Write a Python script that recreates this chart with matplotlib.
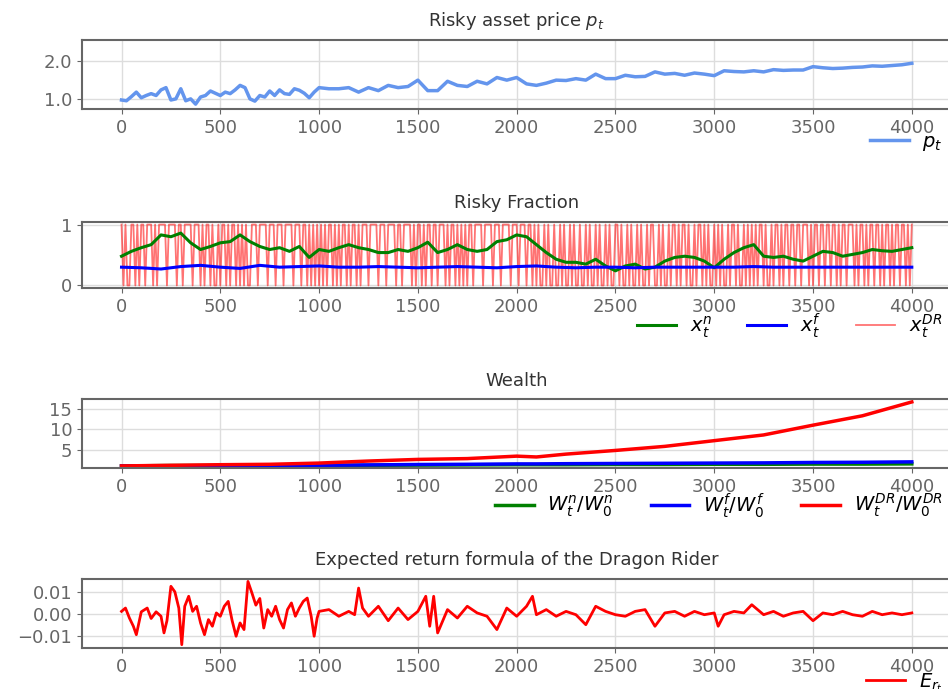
import numpy as np
import matplotlib
matplotlib.use("Agg")
import matplotlib.pyplot as plt
from matplotlib.ticker import FormatStrFormatter

# ---- risky asset price p_t (every 25 steps up to 1000, then every 50)
t_price = list(range(0, 1000, 25)) + list(range(1000, 4001, 50))
price = [0.97, 0.95, 1.06, 1.18, 1.03, 1.09, 1.14, 1.09, 1.24, 1.30,
         0.97, 1.00, 1.27, 0.95, 1.00, 0.86, 1.05, 1.09, 1.21, 1.15,
         1.09, 1.18, 1.14, 1.24, 1.36, 1.30, 1.00, 0.94, 1.09, 1.05,
         1.21, 1.09, 1.24, 1.14, 1.12, 1.27, 1.23, 1.15, 1.03, 1.18,
         1.30, 1.27, 1.27, 1.30, 1.18, 1.30, 1.22, 1.36, 1.30, 1.33,
         1.50, 1.22, 1.22, 1.47, 1.36, 1.33, 1.47, 1.40, 1.57, 1.50,
         1.57, 1.40, 1.36, 1.42, 1.50, 1.49, 1.54, 1.50, 1.66, 1.54,
         1.54, 1.63, 1.59, 1.60, 1.72, 1.66, 1.68, 1.63, 1.69, 1.66,
         1.62, 1.75, 1.73, 1.72, 1.75, 1.72, 1.78, 1.76, 1.77, 1.77,
         1.86, 1.83, 1.81, 1.82, 1.84, 1.85, 1.88, 1.87, 1.89, 1.91,
         1.95]

# ---- risky fractions
t_frac = np.arange(0, 4001, 50)
x_n = [0.48, 0.56, 0.62, 0.67, 0.83, 0.80, 0.86, 0.70, 0.59, 0.64,
       0.70, 0.72, 0.83, 0.72, 0.64, 0.59, 0.62, 0.56, 0.64, 0.46,
       0.59, 0.56, 0.62, 0.67, 0.62, 0.59, 0.54, 0.54, 0.59, 0.56,
       0.62, 0.71, 0.54, 0.59, 0.67, 0.59, 0.56, 0.59, 0.72, 0.75,
       0.83, 0.80, 0.67, 0.54, 0.43, 0.38, 0.38, 0.35, 0.43, 0.32,
       0.24, 0.32, 0.35, 0.27, 0.30, 0.40, 0.46, 0.48, 0.46, 0.40,
       0.29, 0.43, 0.54, 0.62, 0.67, 0.48, 0.46, 0.48, 0.43, 0.40,
       0.48, 0.56, 0.54, 0.48, 0.51, 0.54, 0.59, 0.57, 0.56, 0.59,
       0.62]

t_xf = np.arange(0, 4001, 100)
x_f = [0.30, 0.29, 0.27, 0.31, 0.33, 0.30, 0.28, 0.33, 0.30, 0.31,
       0.32, 0.30, 0.30, 0.31, 0.30, 0.29, 0.30, 0.31, 0.30, 0.29,
       0.31, 0.32, 0.30, 0.29, 0.30, 0.30, 0.29, 0.30, 0.30, 0.30,
       0.30, 0.30, 0.31, 0.30, 0.30, 0.30, 0.30, 0.30, 0.30, 0.30,
       0.30]

# Dragon Rider fraction, every 10 steps (one row = 200 steps)
x_dr = [
    1, 0, 1, 0, 0, 1, 1, 0, 1, 0, 1, 1, 0, 1, 1, 1, 0, 1, 0, 1,
    1, 1, 1, 0, 1, 1, 1, 1, 0, 1, 1, 0, 1, 1, 1, 1, 0, 1, 1, 1,
    0, 1, 0, 1, 1, 0, 1, 0, 0, 1, 0, 1, 1, 0, 1, 0, 1, 1, 0, 1,
    0, 1, 0, 1, 0, 0, 1, 1, 1, 0, 1, 1, 1, 1, 0, 1, 1, 1, 0, 1,
    1, 1, 0, 1, 1, 1, 1, 0, 1, 1, 1, 0, 1, 1, 0, 1, 0, 1, 0, 1,
    0, 1, 0, 1, 0, 1, 1, 0, 1, 0, 1, 0, 1, 1, 0, 1, 0, 1, 1, 0,
    1, 0, 1, 1, 1, 0, 1, 1, 1, 1, 0, 1, 1, 1, 0, 1, 1, 1, 1, 0,
    1, 1, 0, 1, 1, 1, 1, 0, 1, 0, 1, 1, 0, 1, 0, 1, 1, 0, 1, 1,
    0, 1, 1, 1, 0, 1, 0, 1, 1, 0, 1, 0, 1, 0, 1, 0, 1, 1, 0, 1,
    1, 1, 1, 0, 1, 1, 1, 1, 0, 1, 1, 1, 0, 1, 1, 1, 1, 0, 1, 1,
    1, 0, 1, 1, 1, 0, 1, 1, 0, 1, 0, 1, 0, 0, 1, 0, 1, 0, 0, 1,
    0, 0, 1, 0, 1, 0, 0, 1, 0, 1, 0, 0, 1, 0, 0, 1, 0, 1, 0, 0,
    1, 0, 1, 0, 0, 1, 0, 1, 0, 0, 1, 1, 0, 1, 0, 0, 1, 0, 1, 0,
    0, 1, 0, 1, 0, 0, 1, 0, 1, 1, 0, 0, 1, 0, 1, 0, 0, 1, 0, 1,
    1, 0, 1, 0, 1, 1, 0, 1, 0, 0, 1, 0, 1, 1, 0, 1, 0, 1, 0, 0,
    1, 0, 1, 0, 1, 0, 0, 1, 0, 1, 1, 0, 1, 0, 0, 1, 0, 1, 0, 1,
    0, 1, 0, 1, 1, 0, 1, 0, 0, 1, 0, 1, 1, 0, 1, 0, 1, 1, 0, 1,
    1, 0, 1, 1, 0, 1, 1, 1, 0, 1, 0, 1, 1, 0, 1, 1, 0, 1, 1, 0,
    1, 1, 0, 1, 0, 1, 1, 0, 1, 1, 1, 0, 1, 0, 1, 1, 0, 1, 0, 1,
    1, 0, 1, 1, 0, 1, 0, 1, 1, 0, 1, 0, 1, 1, 0, 1, 1, 0, 1, 0,
    1]
t_dr = np.arange(len(x_dr)) * 10

# ---- wealth relative to start
t_w = [0, 250, 500, 750, 1000, 1250, 1500, 1750, 2000, 2100, 2250,
       2500, 2750, 3000, 3250, 3500, 3750, 4000]
w_dr = [1.0, 1.15, 1.3, 1.4, 1.7, 2.2, 2.6, 2.8, 3.4, 3.2, 3.9,
        4.8, 5.8, 7.2, 8.6, 11.0, 13.3, 16.7]
w_n = [1.0, 1.1, 1.1, 1.05, 1.1, 1.15, 1.2, 1.25, 1.3, 1.3, 1.3,
       1.35, 1.35, 1.4, 1.4, 1.45, 1.45, 1.5]
w_f = [1.0, 1.0, 1.05, 1.1, 1.15, 1.25, 1.35, 1.4, 1.5, 1.5, 1.55,
       1.6, 1.65, 1.7, 1.75, 1.85, 1.9, 2.0]

# ---- expected return of the Dragon Rider
t_er = [0, 20, 40, 60, 75, 100, 130, 150, 175, 200, 215, 230, 250, 270,
        290, 305, 320, 340, 360, 380, 400, 420, 440, 460, 480, 500, 520,
        540, 560, 580, 600, 620, 640, 660, 680, 700, 720, 740, 760, 780,
        800, 820, 840, 860, 880, 900, 920, 940, 960, 975, 990, 1000, 1050,
        1100, 1150, 1180, 1200, 1220, 1250, 1300, 1350, 1400, 1450, 1500,
        1540, 1560, 1580, 1600, 1650, 1700, 1750, 1800, 1850, 1900, 1950,
        2000, 2050, 2080, 2100, 2150, 2200, 2250, 2300, 2350, 2400, 2450,
        2500, 2550, 2600, 2650, 2700, 2750, 2800, 2850, 2900, 2950, 3000,
        3020, 3050, 3100, 3150, 3190, 3250, 3300, 3350, 3400, 3450, 3500,
        3550, 3600, 3650, 3700, 3750, 3800, 3850, 3900, 3950, 4000]
e_r = [0.0012, 0.0027, -0.0018, -0.0055, -0.0093, 0.001, 0.0027, -0.002,
       0.001, -0.001, -0.0085, -0.003, 0.0125, 0.01, 0.0027, -0.0138,
       0.0035, 0.008, 0.0012, 0.0035, -0.004, -0.0093, -0.0025, -0.0055,
       0.0005, -0.001, 0.0035, 0.0057, -0.003, -0.01, -0.004, -0.007,
       0.0147, 0.0095, 0.004, 0.007, -0.0063, 0.002, -0.001, 0.0035,
       -0.0025, -0.0063, 0.002, 0.005, -0.001, 0.0027, 0.0057, 0.0072,
       -0.001, -0.01, -0.0018, 0.0012, 0.002, -0.001, 0.0012, -0.0003,
       0.0117, 0.0027, -0.001, 0.0035, -0.003, 0.0027, -0.0025, 0.0012,
       0.008, -0.0055, 0.008, -0.0085, 0.002, -0.0018, 0.0035, 0.0005,
       -0.001, -0.007, 0.0027, -0.001, 0.0035, 0.008, -0.0003, 0.002,
       -0.001, 0.0012, -0.0003, -0.0048, 0.0035, 0.0012, -0.0003, -0.001,
       0.0012, 0.002, -0.0055, 0.0005, 0.0012, -0.001, 0.0012, -0.0003,
       0.0005, -0.0055, -0.0003, 0.0012, 0.0005, 0.0042, -0.0003, 0.0012,
       -0.001, 0.0005, 0.0012, -0.003, 0.0005, -0.0003, 0.0012, -0.0003,
       -0.001, 0.0012, -0.0003, 0.0005, -0.0003, 0.0005]

grey = "#666666"
plt.rcParams.update({
    "font.family": "DejaVu Sans",
    "axes.edgecolor": grey,
    "axes.linewidth": 1.5,
    "axes.grid": True,
    "grid.color": "#dddddd",
    "grid.linewidth": 1.0,
    "xtick.color": grey,
    "ytick.color": grey,
    "xtick.labelsize": 13,
    "ytick.labelsize": 13,
    "axes.titlesize": 13,
    "axes.titlecolor": "#333333",
    "axes.titlepad": 10,
    "legend.fontsize": 14,
    "legend.frameon": False,
})

fig = plt.figure(figsize=(9.48, 6.89), dpi=100)
left, width = 0.0865, 0.917
ax1 = fig.add_axes([left, 0.8418, width, 0.1001])
ax2 = fig.add_axes([left, 0.5813, width, 0.0972])
ax3 = fig.add_axes([left, 0.3208, width, 0.0994])
ax4 = fig.add_axes([left, 0.0595, width, 0.1002])

xt = np.arange(0, 4001, 500)
for ax in (ax1, ax2, ax3, ax4):
    ax.set_xticks(xt)
    ax.set_xlim(-200, 4200)

leg_kw = dict(loc="upper right", bbox_to_anchor=(1.01, -0.08),
              handlelength=2.0, handletextpad=0.7)

ax1.plot(t_price, price, color="cornflowerblue", lw=2.5, label="$p_t$")
ax1.set_ylim(0.73, 2.57)
ax1.set_yticks([1.0, 2.0])
ax1.yaxis.set_major_formatter(FormatStrFormatter("%.1f"))
ax1.set_title("Risky asset price $p_t$")
ax1.legend(**leg_kw)

ax2.plot(t_dr, x_dr, color="red", lw=1.3, alpha=0.55, label="$x_t^{DR}$")
ax2.plot(t_frac, x_n, color="green", lw=2.2, label="$x_t^n$")
ax2.plot(t_xf, x_f, color="blue", lw=2.2, label="$x_t^f$")
ax2.set_ylim(-0.05, 1.05)
ax2.set_yticks([0, 1])
ax2.set_title("Risky Fraction")
h, l = ax2.get_legend_handles_labels()
ax2.legend([h[1], h[2], h[0]], [l[1], l[2], l[0]], ncol=3,
           columnspacing=1.8, **leg_kw)

ax3.plot(t_w, w_n, color="green", lw=2.5, label="$W_t^n/W_0^n$")
ax3.plot(t_w, w_f, color="blue", lw=2.5, label="$W_t^f/W_0^f$")
ax3.plot(t_w, w_dr, color="red", lw=2.5, label="$W_t^{DR}/W_0^{DR}$")
ax3.set_ylim(0.5, 17.3)
ax3.set_yticks([5, 10, 15])
ax3.set_title("Wealth")
ax3.legend(ncol=3, columnspacing=1.87, **leg_kw)

ax4.plot(t_er, e_r, color="red", lw=2, label="$E_{r_t}$")
ax4.set_yticks([-0.01, 0.0, 0.01])
ax4.set_ylim(-0.0153, 0.0158)
ax4.set_title("Expected return formula of the Dragon Rider")
ax4.legend(**leg_kw)

fig.savefig("out.png", dpi=100)
